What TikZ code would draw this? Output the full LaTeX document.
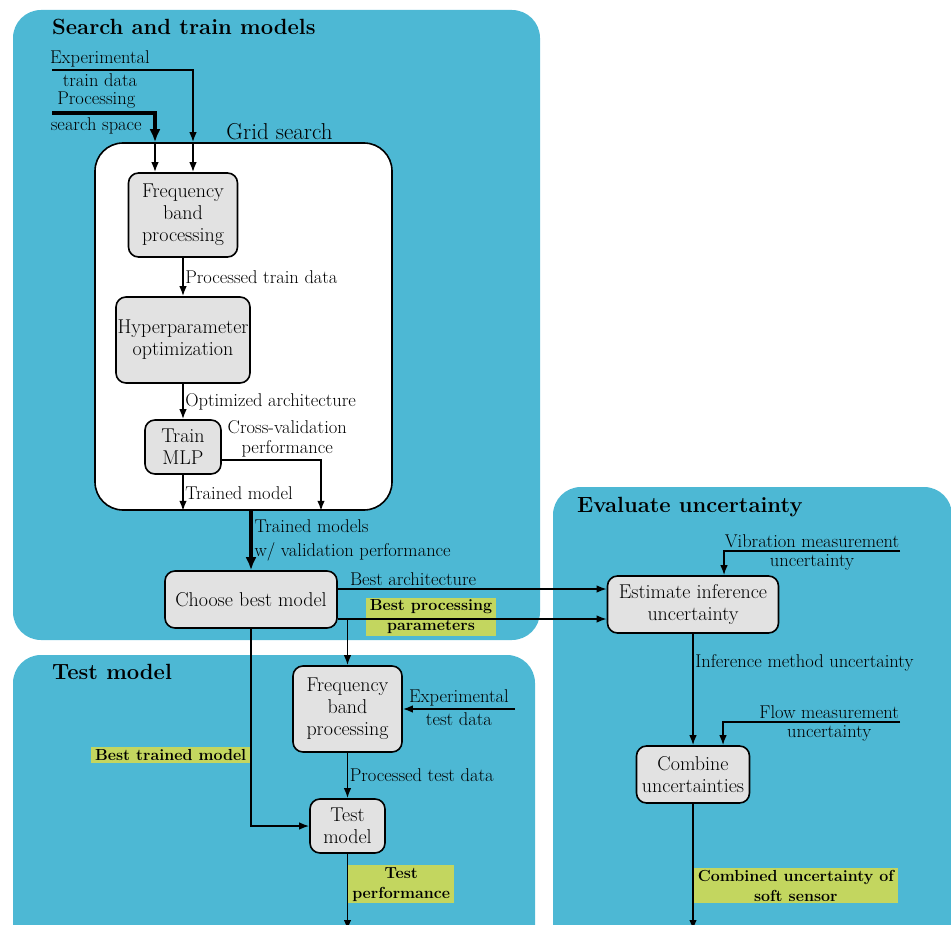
\documentclass[tikz,border=0pt]{standalone}
\usepackage{tikz}
\usetikzlibrary{shapes,arrows,arrows.meta,positioning}
\definecolor{panelblue}{RGB}{77,184,212}
\definecolor{boxgray}{RGB}{226,226,226}
\definecolor{notegreen}{RGB}{195,214,95}
\tikzstyle{panel} = [fill=panelblue, rounded corners=28pt]
\tikzstyle{gridbox} = [draw, fill=white, rectangle, rounded corners=28pt, line width=1.6pt]
\tikzstyle{block} = [draw, fill=boxgray, rectangle, rounded corners=10pt, line width=1.6pt, align=center, inner sep=1pt, font=\fontsize{20}{22}\selectfont]
\tikzstyle{note} = [fill=notegreen, align=center, inner xsep=4pt, inner ysep=2pt, font=\fontsize{16}{20}\selectfont\bfseries]
\tikzstyle{lbl} = [align=center, inner xsep=1.5pt, inner ysep=2.5pt, font=\fontsize{18.5}{22}\selectfont]
\tikzstyle{title} = [anchor=west, inner sep=0pt, font=\fontsize{22}{26}\selectfont\bfseries]
\tikzstyle{flow} = [-{Latex[length=10pt,width=7.5pt]}, line width=1.5pt]
\tikzstyle{heavy} = [-{Latex[length=13pt,width=11pt]}, line width=4pt]

\begin{document}
\begin{tikzpicture}[x=1pt, y=-1pt]
    \clip (0,0) rectangle (951,925);
    % Drawing panels
    \fill[panel] (13,10) rectangle (540,640);
    \fill[panel] (13,655) rectangle (535,960);
    \fill[panel] (553,487) rectangle (952,960);
    \node [title] (searchtitle) at (52,27) {Search and train models};
    \node [title] (testtitle) at (52,672) {Test model};
    \node [title] (evaltitle) at (577,507) {Evaluate uncertainty};
    \node [gridbox, minimum width=297, minimum height=367] (grid) at (243.5,326.5) {};
    \node [lbl, above=0pt of grid.north, xshift=36pt, font=\fontsize{23}{26}\selectfont] (gridtitle) {Grid search};

    % Drawing blocks
    \node [block, minimum width=109, minimum height=84] (fbpA) at (183,215) {Frequency\\band\\processing};
    \node [block, minimum width=134, minimum height=86] (hyper) at (183,340) {Hyperparameter\\optimization};
    \node [block, minimum width=76, minimum height=54] (mlp) at (183,447) {Train\\MLP};
    \node [block, minimum width=172, minimum height=57] (choose) at (251,599.5) {Choose best model};
    \node [block, minimum width=109, minimum height=86] (fbpB) at (347.5,709) {Frequency\\band\\processing};
    \node [block, minimum width=75, minimum height=54] (test) at (347.5,826) {Test\\model};
    \node [block, minimum width=171, minimum height=57] (estimate) at (693,604.5) {Estimate inference\\uncertainty};
    \node [block, minimum width=113, minimum height=57] (combine) at (693,774.5) {Combine\\uncertainties};

    % Free ends
    \coordinate (trainin) at (52,70);
    \coordinate (spacein) at (52,113);
    \coordinate (trainhit) at ([xshift=10pt]fbpA.north);
    \coordinate (spacehit) at ([xshift=-28pt]fbpA.north);
    \coordinate (cvout) at ([yshift=-13pt]mlp.east);
    \coordinate (cvdown) at ([xshift=138pt]mlp.south);
    \coordinate (baout) at ([yshift=10.5pt]choose.east);
    \coordinate (bpout) at ([yshift=-19.5pt]choose.east);
    \coordinate (bpbranch) at (fbpB.north |- bpout);
    \coordinate (testin) at (515,709);
    \coordinate (testend) at (347.5,930);
    \coordinate (vibin) at (900,551);
    \coordinate (vibhit) at ([xshift=31pt]estimate.north);
    \coordinate (flowin) at (900,722);
    \coordinate (flowhit) at ([xshift=30pt]combine.north);
    \coordinate (combend) at (693,930);

    % Connectors
    \draw [flow] (trainin) -| node[lbl, above, pos=0.17] (lexp) {Experimental}
        node[lbl, below, pos=0.17] (ltrain) {train data} (trainhit |- grid.north);
    \draw [flow] (trainhit |- grid.north) -- (trainhit);
    \draw [heavy] (spacein) -| node[lbl, above, pos=0.215] (lproc) {Processing}
        node[lbl, below, pos=0.215] (lspace) {search space} (spacehit |- grid.north);
    \draw [flow] (spacehit |- grid.north) -- (spacehit);
    \draw [flow] (fbpA) -- node[lbl, right] (lptrain) {Processed train data} (hyper);
    \draw [flow] (hyper) -- node[lbl, right] (lopt) {Optimized architecture} (mlp);
    \draw [flow] (mlp) -- node[lbl, right] (ltm) {Trained model} (mlp |- grid.south);
    \draw [flow] (cvout) -| node[lbl, above, pos=0.33, font=\fontsize{18.5}{20}\selectfont] (lcv) {Cross-validation\\performance} (cvdown |- grid.south);
    \draw [heavy] (choose.north |- grid.south) -- node[lbl, right, align=left, font=\fontsize{18.5}{24}\selectfont] (ltms) {Trained models\\w/ validation performance} (choose);
    \draw [flow] (baout) -- node[lbl, above, pos=0.28] (lba) {Best architecture} (baout -| estimate.west);
    \node [note] (lbpp) at (431,617) {Best processing\\parameters};
    \draw [flow] (bpout) -- (bpout -| estimate.west);
    \draw [flow] (bpbranch) -- (fbpB);
    \draw [flow] (choose) |- node[note, left, pos=0.32] (lbtm) {Best trained model} (test);
    \draw [flow] (testin) -- node[lbl, above] (lexpt) {Experimental}
        node[lbl, below] (ltestd) {test data} (fbpB);
    \draw [flow] (fbpB) -- node[lbl, right] (lptest) {Processed test data} (test);
    \draw [flow] (test) -- node[note, right, pos=0.4] (ltp) {Test\\performance} (testend);
    \draw [flow] (vibin) -| node[lbl, above, pos=0.25] (lvib) {Vibration measurement}
        node[lbl, below, pos=0.25] (lvibu) {uncertainty} (vibhit);
    \draw [flow] (estimate) -- node[lbl, right, pos=0.26] (limu) {Inference method uncertainty} (combine);
    \draw [flow] (flowin) -| node[lbl, above, pos=0.2] (lflow) {Flow measurement}
        node[lbl, below, pos=0.2] (lflowu) {uncertainty} (flowhit);
    \draw [flow] (combine) -- node[note, right, pos=0.65] (lcomb) {Combined uncertainty of\\soft sensor} (combend);
\end{tikzpicture}
\end{document}
